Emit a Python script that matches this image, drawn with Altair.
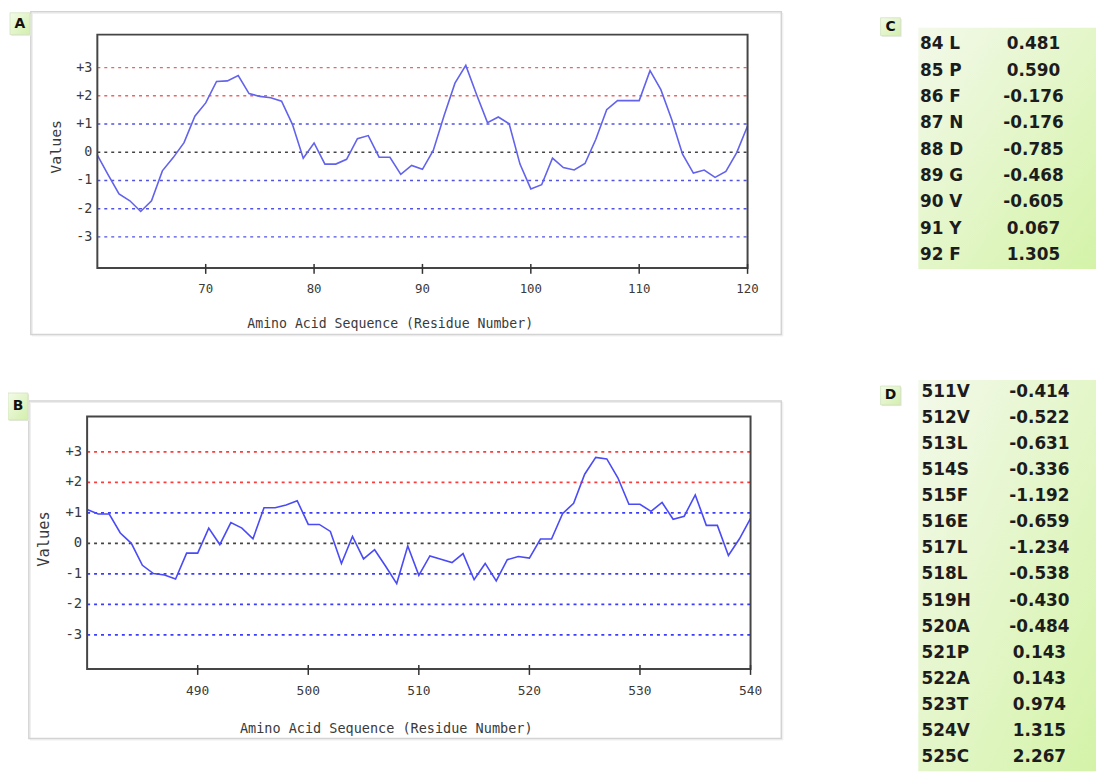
import altair as alt
import pandas as pd

# ---------------- data ----------------
A_FIRST_RESIDUE = 60
A_VALUES = [-0.10, -0.80, -1.48, -1.72, -2.10, -1.72, -0.66, -0.19, 0.34, 1.28,
            1.75, 2.51, 2.53, 2.72, 2.08, 1.98, 1.93, 1.81, 0.99, -0.21,
            0.33, -0.42, -0.42, -0.25, 0.481, 0.590, -0.176, -0.176, -0.785, -0.468,
            -0.605, 0.067, 1.305, 2.45, 3.08, 2.04, 1.05, 1.25, 1.01, -0.42,
            -1.30, -1.15, -0.21, -0.54, -0.63, -0.40, 0.46, 1.51, 1.83, 1.83,
            1.83, 2.89, 2.22, 1.16, -0.07, -0.74, -0.63, -0.89, -0.68, -0.01,
            0.93]
A_TICKS = [70, 80, 90, 100, 110, 120]

B_FIRST_RESIDUE = 480
B_VALUES = [1.11, 0.96, 0.96, 0.34, 0.00, -0.72, -0.99, -1.04, -1.17, -0.32,
            -0.32, 0.50, -0.04, 0.68, 0.50, 0.15, 1.17, 1.17, 1.26, 1.40,
            0.62, 0.62, 0.39, -0.66, 0.23, -0.51, -0.21, -0.75, -1.32, -0.09,
            -1.05, -0.414, -0.522, -0.631, -0.336, -1.192, -0.659, -1.234, -0.538, -0.430,
            -0.484, 0.143, 0.143, 0.974, 1.315, 2.267, 2.82, 2.77, 2.15, 1.28,
            1.28, 1.05, 1.34, 0.79, 0.89, 1.59, 0.59, 0.59, -0.40, 0.15,
            0.82]
B_TICKS = [490, 500, 510, 520, 530, 540]

LEVELS = [3, 2, 1, 0, -1, -2, -3]
LEVEL_KIND = ["high", "high", "low", "zero", "low", "low", "low"]

C_RESIDUES = ["84 L", "85 P", "86 F", "87 N", "88 D", "89 G", "90 V", "91 Y", "92 F"]
C_SCORES = [0.481, 0.590, -0.176, -0.176, -0.785, -0.468, -0.605, 0.067, 1.305]

D_RESIDUES = ["511V", "512V", "513L", "514S", "515F", "516E", "517L", "518L",
              "519H", "520A", "521P", "522A", "523T", "524V", "525C"]
D_SCORES = [-0.414, -0.522, -0.631, -0.336, -1.192, -0.659, -1.234, -0.538,
            -0.430, -0.484, 0.143, 0.143, 0.974, 1.315, 2.267]

X_TITLE = "Amino Acid Sequence (Residue Number)"
Y_TITLE = "Values"
MONO = "DejaVu Sans Mono"
BOLD = "DejaVu Sans"
AXIS_TEXT = "#3a3a3a"

ONE = pd.DataFrame({"k": [0]})

LABEL_FILL = alt.LinearGradient(
    gradient="linear",
    stops=[alt.GradientStop(color="#f3fbe8", offset=0),
           alt.GradientStop(color="#d3efac", offset=1)],
    x1=0, y1=0, x2=1, y2=1)
TABLE_FILL = alt.LinearGradient(
    gradient="linear",
    stops=[alt.GradientStop(color="#f3f9ea", offset=0),
           alt.GradientStop(color="#d4f3a8", offset=1)],
    x1=0, y1=0, x2=1, y2=1)


def box(x1, x2, y1, y2, **mark):
    return alt.Chart(ONE).mark_rect(**mark).encode(
        x=alt.value(x1), x2=alt.value(x2), y=alt.value(y1), y2=alt.value(y2))


def note(text, x, y, **mark):
    return alt.Chart(ONE).mark_text(**mark).encode(
        x=alt.value(x), y=alt.value(y), text=alt.value(text))


def label_box(text, b):
    x1, x2, y1, y2 = b
    return [box(x1 + 1.2, x2 + 1.2, y1 + 1.2, y2 + 1.2, fill="#e4e8de"),
            box(x1, x2, y1, y2, fill=LABEL_FILL, stroke="#d3e3c0", strokeWidth=0.8),
            note(text, (x1 + x2) / 2, (y1 + y2) / 2, font=BOLD, fontWeight="bold",
                 fontSize=14, color="#111111", align="center", baseline="middle")]


def level_text(v):
    return f"+{v}" if v > 0 else f"{v}"


def profile(first, values, ticks, name, g):
    x0, x1, y0, y1 = g["plot"]
    last = first + len(values) - 1
    df = pd.DataFrame({"residue": list(range(first, last + 1)), "value": values})
    lv = pd.DataFrame({"level": LEVELS, "kind": LEVEL_KIND,
                       "label": [level_text(v) for v in LEVELS]})
    tk = pd.DataFrame({"tick": ticks, "label": [str(t) for t in ticks]})
    xs = alt.Scale(domain=[first, last], range=[x0, x1], nice=False, zero=False)
    ys = alt.Scale(domain=g["ydom"], range=[y1, y0], nice=False, zero=False)

    fx1, fx2, fy1, fy2 = g["frame"]
    shadow = box(fx1 + 1.5, fx2 + 1.5, fy1 + 1.5, fy2 + 1.5,
                 fill="transparent", stroke="#ececec", strokeWidth=1)
    frame = box(fx1, fx2, fy1, fy2, fill="transparent", stroke="#d3d3d3", strokeWidth=1.5)
    levels = alt.Chart(lv).mark_rule(strokeDash=[3, 4], strokeWidth=g["dashw"]).encode(
        y=alt.Y("level:Q", scale=ys, axis=None),
        x=alt.value(x0), x2=alt.value(x1),
        color=alt.Color("kind:N", legend=None,
                        scale=alt.Scale(domain=["high", "zero", "low"],
                                        range=g["dashcolors"])))
    line = alt.Chart(df).mark_line(color=g["linecolor"], strokeWidth=1.6).encode(
        x=alt.X("residue:Q", scale=xs, axis=None),
        y=alt.Y("value:Q", scale=ys, axis=None))
    plotbox = box(x0, x1, y0, y1, fill="transparent", stroke="#454545", strokeWidth=2)
    tickmarks = alt.Chart(tk).mark_rule(color="#333333", strokeWidth=1.5).encode(
        x=alt.X("tick:Q", scale=xs, axis=None),
        y=alt.value(y1 - 4), y2=alt.value(y1 + 6))
    ticklabels = alt.Chart(tk).mark_text(
        font=MONO, fontSize=g["xlabsize"], color=AXIS_TEXT,
        align="center", baseline="middle").encode(
        x=alt.X("tick:Q", scale=xs, axis=None),
        y=alt.value(y1 + g["xlabpad"]), text="label:N")
    levellabels = alt.Chart(lv).mark_text(
        font=MONO, fontSize=g["ylabsize"], color=AXIS_TEXT,
        align="right", baseline="middle").encode(
        y=alt.Y("level:Q", scale=ys, axis=None),
        x=alt.value(x0 - 5), text="label:N")
    xtitle = note(X_TITLE, g["xtitle"][0], g["xtitle"][1], font=MONO,
                  fontSize=g["xtitlesize"], color=AXIS_TEXT, align="center",
                  baseline="middle")
    ytitle = note(Y_TITLE, g["ytitle"][0], g["ytitle"][1], font=MONO,
                  fontSize=g["ytitlesize"], color=AXIS_TEXT, align="center",
                  baseline="middle", angle=270)
    return [shadow, frame] + label_box(name, g["label"]) + \
        [levels, line, plotbox, tickmarks, ticklabels, levellabels, xtitle, ytitle]


def table(residues, scores, name, g):
    df = pd.DataFrame({"row": list(range(len(residues))), "residue": residues,
                       "score": [f"{s:.3f}" for s in scores]})
    ys = alt.Scale(domain=[0, len(residues) - 1], range=g["rows"], nice=False, zero=False)
    bx1, bx2, by1, by2 = g["bg"]
    bg = box(bx1, bx2, by1, by2, fill=TABLE_FILL)
    left = alt.Chart(df).mark_text(font=BOLD, fontWeight="bold", fontSize=17,
                                   align="left", baseline="middle",
                                   color="#1c1c1c").encode(
        x=alt.value(g["lx"]), y=alt.Y("row:Q", scale=ys, axis=None), text="residue:N")
    right = alt.Chart(df).mark_text(font=BOLD, fontWeight="bold", fontSize=17,
                                    align="center", baseline="middle",
                                    color="#1c1c1c").encode(
        x=alt.value(g["vx"]), y=alt.Y("row:Q", scale=ys, axis=None), text="score:N")
    return [bg] + label_box(name, g["label"]) + [left, right]


# geometry in view pixels (view origin = page (8, 8))
GA = dict(plot=(90, 745, 24, 259), ydom=[-4.10, 4.17],
          frame=(23, 779, 1, 326), label=(2, 22, 2, 24),
          xlabpad=21.5, xlabsize=12.5, xtitlesize=13.3, xtitle=(385, 316),
          ylabsize=13.5, ytitlesize=15, ytitle=(48, 137),
          dashw=1.5, dashcolors=["#ee6363", "#444444", "#5252e6"], linecolor="#6262ec")
GB = dict(plot=(79.7, 748, 408.7, 663), ydom=[-4.12, 4.16],
          frame=(21, 779, 393, 733), label=(0, 20, 385, 412),
          xlabpad=22.5, xlabsize=13, xtitlesize=13.6, xtitle=(381, 724),
          ylabsize=14, ytitlesize=15.5, ytitle=(36, 532),
          dashw=1.8, dashcolors=["#ff3c3c", "#444444", "#3c3cff"], linecolor="#4a4af6")
GC = dict(bg=(917, 1096, 17, 260), rows=[33.7, 246.3], label=(879, 899, 7, 25),
          lx=918.7, vx=1033)
GD = dict(bg=(917, 1096, 372, 766), rows=[383.7, 751.9], label=(879, 899, 378, 397),
          lx=920.3, vx=1039)

layers = (profile(A_FIRST_RESIDUE, A_VALUES, A_TICKS, "A", GA)
          + profile(B_FIRST_RESIDUE, B_VALUES, B_TICKS, "B", GB)
          + table(C_RESIDUES, C_SCORES, "C", GC)
          + table(D_RESIDUES, D_SCORES, "D", GD))

chart = alt.layer(*layers).resolve_scale(
    x="independent", y="independent", color="independent"
).properties(
    width=1096, height=766, padding=0,
    autosize=alt.AutoSizeParams(type="none"),
).configure_view(strokeWidth=0)

chart.save("out.html", embed_options={"renderer": "svg", "actions": False})
